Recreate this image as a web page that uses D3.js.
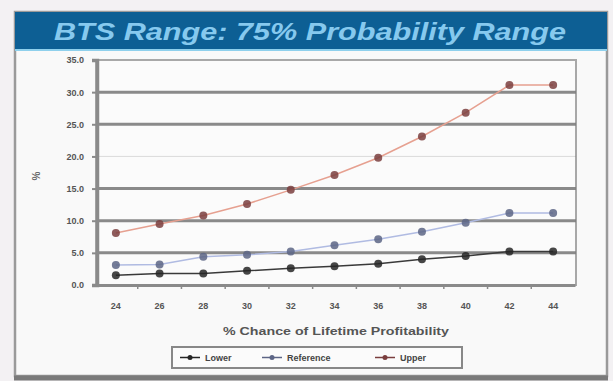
<!DOCTYPE html>
<html><head><meta charset="utf-8">
<script src="https://cdn.jsdelivr.net/npm/d3@7"></script>
<style>body{margin:0;background:#f3f1f3;}svg{display:block;}</style>
</head><body>
<svg id="chart" width="613" height="381"></svg>
<script>
const categories = ["24","26","28","30","32","34","36","38","40","42","44"];
const lowerValues = [1.5, 1.8, 1.8, 2.2, 2.6, 2.9, 3.3, 4.0, 4.5, 5.2, 5.2];
const referenceValues = [3.1, 3.2, 4.4, 4.7, 5.2, 6.2, 7.1, 8.3, 9.7, 11.2, 11.2];
const upperValues = [8.1, 9.5, 10.8, 12.6, 14.8, 17.1, 19.8, 23.1, 26.8, 31.1, 31.1];
const yTicks = [0, 5, 10, 15, 20, 25, 30, 35];
const seriesNames = ["Lower", "Reference", "Upper"];
const titleText = "BTS Range: 75% Probability Range";
const xTitle = "% Chance of Lifetime Profitability";
const yTitle = "%";

const svg = d3.select("#chart");
const W = 613, H = 381;

svg.append("rect").attr("x",0).attr("y",0).attr("width",W).attr("height",H).attr("fill","#f3f1f3");
svg.append("rect").attr("x",15).attr("y",12).attr("width",592).attr("height",364)
  .attr("fill","#f9f9f9").attr("stroke","#9a9a9a").attr("stroke-width",2.5);
svg.append("line").attr("x1",14).attr("x2",608).attr("y1",378).attr("y2",378)
  .attr("stroke","#7a7a7a").attr("stroke-width",5);

svg.append("rect").attr("x",15).attr("y",12).attr("width",592).attr("height",38).attr("fill","#0d5f94");
svg.append("line").attr("x1",15).attr("x2",607).attr("y1",50).attr("y2",50).attr("stroke","#8fd0ec").attr("stroke-width",2);
svg.append("text").attr("x",310).attr("y",40).attr("text-anchor","middle")
  .attr("font-family","Liberation Sans, Arial, sans-serif").attr("font-size",23).attr("font-weight","bold")
  .attr("font-style","italic").attr("fill","#86c9ee").attr("textLength",512).attr("lengthAdjust","spacingAndGlyphs")
  .text(titleText);

const x = d3.scaleBand().domain(categories).range([94, 575]);
const y = d3.scaleLinear().domain([0, 35]).range([285, 60]);
const plotL = 96, plotR = 576;

svg.append("rect").attr("x",plotL).attr("y",y(35)).attr("width",plotR-plotL).attr("height",y(0)-y(35))
  .attr("fill","#fbfbfb").attr("stroke","#a8a8a8").attr("stroke-width",2);

svg.append("g").selectAll("line").data(yTicks.filter(d=>d>0 && d<35)).join("line")
  .attr("x1",plotL).attr("x2",plotR).attr("y1",d=>y(d)).attr("y2",d=>y(d))
  .attr("stroke","#7d7d7d").attr("stroke-width",d=>d===20?1:3).attr("stroke-opacity",d=>d===20?0.25:0.9);

const yAxis = d3.axisLeft(y).tickValues(yTicks).tickFormat(d3.format(".1f")).tickSize(5).tickPadding(8);
const gy = svg.append("g").attr("transform",`translate(${plotL+1},0)`).call(yAxis);
gy.select(".domain").attr("stroke","#8a8a8a").attr("stroke-width",3.5);
gy.selectAll(".tick line").attr("stroke","#8a8a8a").attr("stroke-width",2);
gy.selectAll("text").attr("font-family","Liberation Sans, Arial, sans-serif").attr("font-size",9)
  .attr("font-weight","bold").attr("fill","#555");

const xAxis = d3.axisBottom(x).tickSize(0).tickPadding(18);
const gx = svg.append("g").attr("transform",`translate(0,${y(0)})`).call(xAxis);
gx.select(".domain").attr("stroke","#8a8a8a").attr("stroke-width",3);
gx.selectAll("text").attr("font-family","Liberation Sans, Arial, sans-serif").attr("font-size",9)
  .attr("font-weight","bold").attr("fill","#555");
gx.append("g").selectAll("line").data(categories.slice(1)).join("line")
  .attr("x1",d=>x(d)).attr("x2",d=>x(d)).attr("y1",0).attr("y2",4)
  .attr("stroke","#8a8a8a").attr("stroke-width",1.5);

svg.append("text").attr("transform","translate(40,176) rotate(-90)").attr("text-anchor","middle")
  .attr("font-family","Liberation Sans, Arial, sans-serif").attr("font-size",10).attr("font-weight","bold")
  .attr("fill","#666").text(yTitle);
svg.append("text").attr("x",336).attr("y",335).attr("text-anchor","middle")
  .attr("font-family","Liberation Sans, Arial, sans-serif").attr("font-size",10).attr("font-weight","bold")
  .attr("fill","#555").attr("textLength",226).attr("lengthAdjust","spacingAndGlyphs").text(xTitle);

const series = [
  {name: seriesNames[2], values: upperValues, line:"#e6a090", dot:"#7a3e3e"},
  {name: seriesNames[1], values: referenceValues, line:"#b0bbe2", dot:"#5c6585"},
  {name: seriesNames[0], values: lowerValues, line:"#3a3a3a", dot:"#262626"}
];
const line = d3.line().x((d,i)=>x(categories[i])+x.bandwidth()/2).y(d=>y(d));
series.forEach(s=>{
  svg.append("path").datum(s.values).attr("d",line).attr("fill","none")
    .attr("stroke",s.line).attr("stroke-width",1.5);
  svg.append("g").selectAll("circle").data(s.values).join("circle")
    .attr("cx",(d,i)=>x(categories[i])+x.bandwidth()/2).attr("cy",d=>y(d)).attr("r",4)
    .attr("fill",s.dot).attr("opacity",0.85);
});

const lg = svg.append("g");
lg.append("rect").attr("x",172).attr("y",347).attr("width",290).attr("height",21)
  .attr("fill","#fbfbfb").attr("stroke","#888").attr("stroke-width",2);
const legendItems = [
  {name: seriesNames[0], x:180, col:"#262626"},
  {name: seriesNames[1], x:262, col:"#5c6585"},
  {name: seriesNames[2], x:375, col:"#7a3e3e"}
];
legendItems.forEach(it=>{
  lg.append("line").attr("x1",it.x).attr("x2",it.x+20).attr("y1",357.5).attr("y2",357.5)
    .attr("stroke",it.col).attr("stroke-width",1.5);
  lg.append("circle").attr("cx",it.x+10).attr("cy",357.5).attr("r",2.5).attr("fill",it.col);
  lg.append("text").attr("x",it.x+25).attr("y",361).attr("font-family","Liberation Sans, Arial, sans-serif")
    .attr("font-size",9).attr("font-weight","bold").attr("fill","#444").text(it.name);
});
</script>
</body></html>
